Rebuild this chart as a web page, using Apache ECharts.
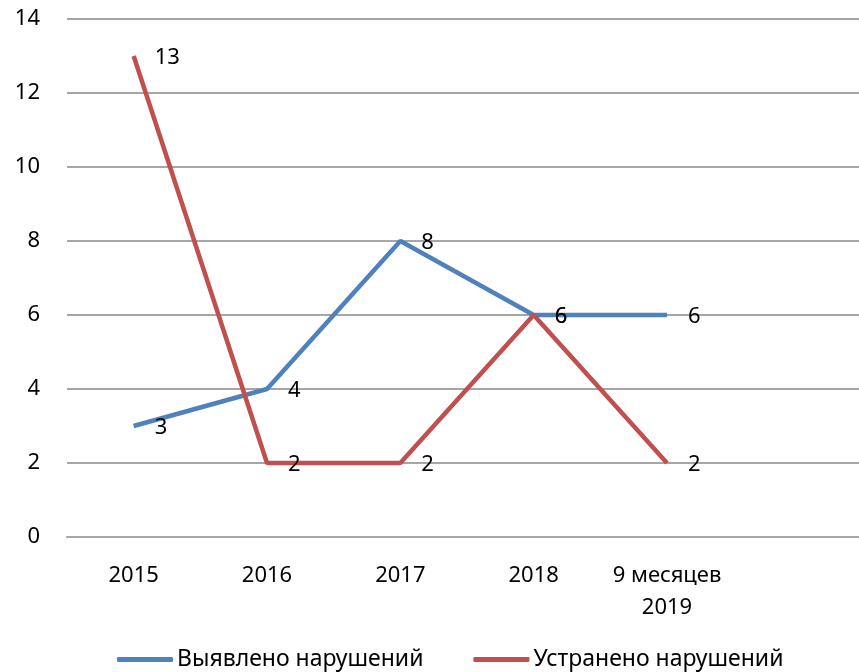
<!DOCTYPE html>
<html>
<head>
<meta charset="utf-8">
<script src="https://cdn.jsdelivr.net/npm/echarts@6/dist/echarts.min.js"></script>
<style>
  html, body { margin: 0; padding: 0; background: #fff; }
  #chart { width: 859px; height: 672px; }
</style>
</head>
<body>
<div id="chart"></div>
<script>
// categories (last one is an empty slot, the plot runs past the right edge)
const categories = ['2015', '2016', '2017', '2018', '9 месяцев\n2019', '']
const yTicks = [0, 14, 2] // min, max, interval

const detected = [3, 4, 8, 6, 6]   // Выявлено нарушений
const fixed = [13, 2, 2, 6, 2]     // Устранено нарушений

const FONT = 'Noto Sans'
const chart = echarts.init(document.getElementById('chart'))

const labelStyle = {
  show: true,
  position: 'right',
  distance: 21,
  offset: [0, 2],
  color: '#000',
  fontFamily: FONT,
  fontSize: 22
}

chart.setOption({
  animation: false,
  textStyle: { fontFamily: FONT },
  grid: { left: 67, right: -8, top: 19, bottom: 135, outerBoundsMode: 'none' },
  xAxis: {
    type: 'category',
    data: categories,
    boundaryGap: true,
    axisLine: { lineStyle: { color: '#a6a6a6', width: 2 } },
    axisTick: { show: false },
    axisLabel: {
      color: '#000', fontFamily: FONT, fontSize: 22,
      margin: 23, lineHeight: 32, interval: 0
    }
  },
  yAxis: {
    type: 'value',
    min: yTicks[0], max: yTicks[1], interval: yTicks[2],
    axisLine: { show: false },
    axisTick: { show: false },
    splitLine: { lineStyle: { color: '#a6a6a6', width: 2 } },
    axisLabel: { color: '#000', fontFamily: FONT, fontSize: 22, margin: 27 }
  },
  legend: {
    left: 117,
    top: 648,
    padding: 0,
    itemWidth: 56,
    itemHeight: 5,
    itemGap: 50,
    icon: 'roundRect',
    textStyle: { color: '#000', fontFamily: FONT, fontSize: 23, padding: [0, 0, 0, -1] },
    data: ['Выявлено нарушений', 'Устранено нарушений']
  },
  series: [
    {
      name: 'Выявлено нарушений',
      type: 'line',
      data: detected,
      symbol: 'circle',
      symbolSize: 0,
      lineStyle: { color: '#4f81bd', width: 4.5 },
      itemStyle: { color: '#4f81bd' },
      label: labelStyle,
      z: 2
    },
    {
      name: 'Устранено нарушений',
      type: 'line',
      data: fixed,
      symbol: 'circle',
      symbolSize: 0,
      lineStyle: { color: '#c0504d', width: 4.5 },
      itemStyle: { color: '#c0504d' },
      label: labelStyle,
      z: 3
    }
  ]
})
</script>
</body>
</html>
